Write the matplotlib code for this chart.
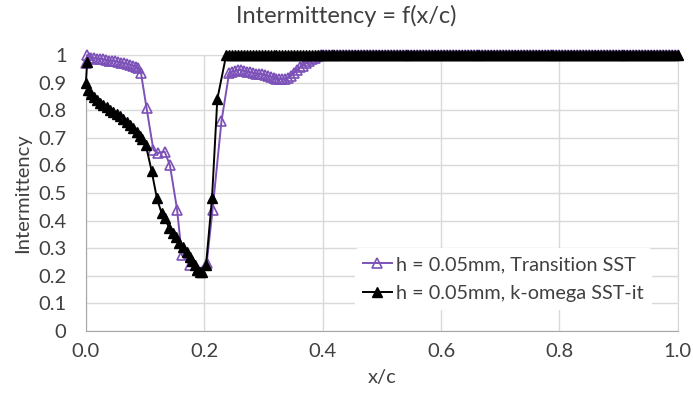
import matplotlib
matplotlib.use("Agg")
import matplotlib.pyplot as plt
from matplotlib.ticker import FuncFormatter

plt.rcParams['font.family'] = ['Lato', 'DejaVu Sans']

# Transition SST (open purple triangles)
sst_x = [0.0, 0.002, 0.005, 0.009, 0.014, 0.019, 0.024, 0.029, 0.034, 0.039, 0.044, 0.049, 0.054, 0.059, 0.064,
         0.069, 0.074, 0.079, 0.084, 0.088, 0.093, 0.1025, 0.114, 0.122, 0.133, 0.142, 0.154, 0.162, 0.175, 0.19,
         0.204, 0.214, 0.229, 0.242]
sst_y = [0.97, 1.0, 0.99, 0.99, 0.988, 0.987, 0.985, 0.984, 0.982, 0.98, 0.978, 0.977, 0.975, 0.973, 0.971,
         0.968, 0.965, 0.962, 0.958, 0.952, 0.935, 0.807, 0.656, 0.645, 0.65, 0.60, 0.44, 0.275, 0.24, 0.22,
         0.245, 0.44, 0.76, 0.935]

# wave region 0.25 - 0.4 (shared x)
mid_x = [0.247, 0.252, 0.257, 0.262, 0.267, 0.272, 0.277, 0.282, 0.287, 0.292, 0.297, 0.302, 0.307, 0.312, 0.317,
         0.322, 0.327, 0.332, 0.337, 0.342, 0.347, 0.352, 0.357, 0.362, 0.367, 0.372, 0.377, 0.382, 0.387, 0.392,
         0.397]
sst_mid_y = [0.94, 0.942, 0.945, 0.945, 0.942, 0.94, 0.938, 0.935, 0.933, 0.93, 0.93, 0.927, 0.925, 0.922, 0.918,
             0.915, 0.912, 0.915, 0.912, 0.918, 0.925, 0.935, 0.945, 0.955, 0.962, 0.97, 0.978, 0.985, 0.99, 0.995,
             1.0]
sstit_mid_y = [1, 1, 1, 1, 1, 1, 1, 1, 1, 1, 1, 1, 1, 1, 1, 1, 1, 1, 1, 1, 1, 1, 1, 1, 1, 1, 1, 1, 1, 1, 1]

# k-omega SST-it (filled black triangles)
sstit_x = [0.002, 0.0, 0.004, 0.009, 0.014, 0.018, 0.023, 0.029, 0.035, 0.041, 0.046, 0.052, 0.058, 0.063, 0.069,
           0.074, 0.080, 0.086, 0.091, 0.095, 0.101, 0.111, 0.120, 0.128, 0.133, 0.141, 0.147, 0.152, 0.158, 0.164,
           0.170, 0.175, 0.180, 0.184, 0.188, 0.192, 0.196, 0.203, 0.213, 0.222, 0.237, 0.242]
sstit_y = [0.975, 0.90, 0.875, 0.86, 0.848, 0.838, 0.828, 0.819, 0.81, 0.80, 0.793, 0.786, 0.778, 0.77, 0.758,
           0.746, 0.734, 0.722, 0.708, 0.695, 0.675, 0.58, 0.48, 0.426, 0.41, 0.372, 0.355, 0.339, 0.32, 0.303,
           0.285, 0.269, 0.252, 0.239, 0.222, 0.215, 0.215, 0.24, 0.48, 0.84, 1.0, 1.0]

# fully turbulent part, both models at 1
tail_x = [0.400, 0.405, 0.410, 0.415, 0.420, 0.425, 0.430, 0.435, 0.440, 0.445,
          0.450, 0.455, 0.460, 0.465, 0.470, 0.475, 0.480, 0.485, 0.490, 0.495,
          0.500, 0.505, 0.510, 0.515, 0.520, 0.525, 0.530, 0.535, 0.540, 0.545,
          0.550, 0.555, 0.560, 0.565, 0.570, 0.575, 0.580, 0.585, 0.590, 0.595,
          0.600, 0.605, 0.610, 0.615, 0.620, 0.625, 0.630, 0.635, 0.640, 0.645,
          0.650, 0.655, 0.660, 0.665, 0.670, 0.675, 0.680, 0.685, 0.690, 0.695,
          0.700, 0.705, 0.710, 0.715, 0.720, 0.725, 0.730, 0.735, 0.740, 0.745,
          0.750, 0.755, 0.760, 0.765, 0.770, 0.775, 0.780, 0.785, 0.790, 0.795,
          0.800, 0.805, 0.810, 0.815, 0.820, 0.825, 0.830, 0.835, 0.840, 0.845,
          0.850, 0.855, 0.860, 0.865, 0.870, 0.875, 0.880, 0.885, 0.890, 0.895,
          0.900, 0.905, 0.910, 0.915, 0.920, 0.925, 0.930, 0.935, 0.940, 0.945,
          0.950, 0.955, 0.960, 0.965, 0.970, 0.975, 0.980, 0.985, 0.990, 0.995,
          1.000]
tail_y = [1, 1, 1, 1, 1, 1, 1, 1, 1, 1,
          1, 1, 1, 1, 1, 1, 1, 1, 1, 1,
          1, 1, 1, 1, 1, 1, 1, 1, 1, 1,
          1, 1, 1, 1, 1, 1, 1, 1, 1, 1,
          1, 1, 1, 1, 1, 1, 1, 1, 1, 1,
          1, 1, 1, 1, 1, 1, 1, 1, 1, 1,
          1, 1, 1, 1, 1, 1, 1, 1, 1, 1,
          1, 1, 1, 1, 1, 1, 1, 1, 1, 1,
          1, 1, 1, 1, 1, 1, 1, 1, 1, 1,
          1, 1, 1, 1, 1, 1, 1, 1, 1, 1,
          1, 1, 1, 1, 1, 1, 1, 1, 1, 1,
          1, 1, 1, 1, 1, 1, 1, 1, 1, 1,
          1]

purple = '#7d52b8'
grid_c = '#d9d9d9'
text_c = '#404040'

fig = plt.figure(figsize=(6.93, 4.05), dpi=100)
ax = fig.add_axes([0.124, 0.183, 0.854, 0.681])

ax.plot(sst_x + mid_x + tail_x, sst_y + sst_mid_y + tail_y, color=purple, lw=1.4,
        marker='^', ms=7.5, mfc='none', mec=purple, mew=1.2, clip_on=False, zorder=3,
        label='h = 0.05mm, Transition SST')
ax.plot(sstit_x + mid_x + tail_x, sstit_y + sstit_mid_y + tail_y, color='black', lw=1.4,
        marker='^', ms=7.5, mfc='black', mec='black', clip_on=False, zorder=4,
        label='h = 0.05mm, k-omega SST-it')

ax.set_xlim(0, 1)
ax.set_ylim(0, 1)
ax.set_xticks([0.0, 0.2, 0.4, 0.6, 0.8, 1.0])
ax.set_yticks([0, 0.1, 0.2, 0.3, 0.4, 0.5, 0.6, 0.7, 0.8, 0.9, 1.0])
ax.xaxis.set_major_formatter(FuncFormatter(lambda v, p: '%.1f' % v))
ax.yaxis.set_major_formatter(FuncFormatter(lambda v, p: '%g' % round(v, 1)))
ax.tick_params(length=0, labelsize=14.5, colors=text_c)
ax.tick_params(axis='x', pad=9)
ax.tick_params(axis='y', pad=14)
ax.grid(True, color=grid_c, lw=1)
ax.set_axisbelow(True)
for s in ['top', 'right']:
    ax.spines[s].set_color(grid_c)
for s in ['left', 'bottom']:
    ax.spines[s].set_color('#a6a6a6')

fig.text(0.5, 1 - 16 / 405, 'Intermittency = f(x/c)', fontsize=17, color=text_c, ha='center', va='center')
ax.set_xlabel('x/c', fontsize=14.5, color=text_c, labelpad=6)
ax.set_ylabel('Intermittency', fontsize=14.5, color=text_c, labelpad=5)

leg = ax.legend(loc='lower right', bbox_to_anchor=(0.955, 0.21), bbox_transform=fig.transFigure,
                fontsize=14.3, handlelength=1.5, handletextpad=0.2, labelspacing=0.6,
                frameon=True, framealpha=1, facecolor='white', edgecolor='none', borderpad=0.4)
for t in leg.get_texts():
    t.set_color(text_c)

fig.savefig('out.png', dpi=100)
